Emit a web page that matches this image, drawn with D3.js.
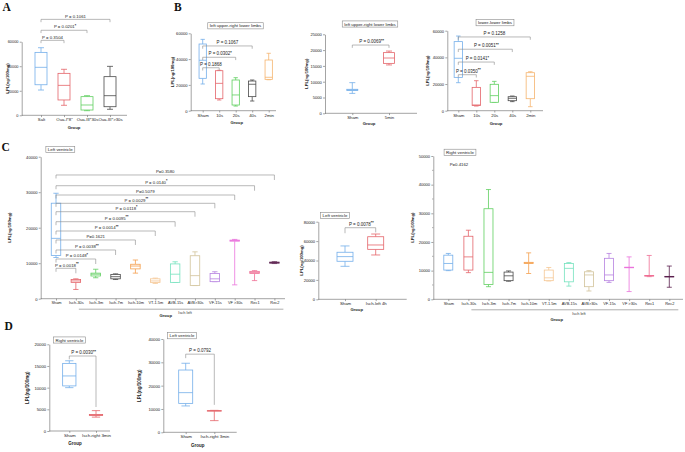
<!DOCTYPE html>
<html>
<head>
<meta charset="utf-8">
<script src="https://cdn.jsdelivr.net/npm/d3@7"></script>
<style>
body { margin: 0; background: #fff; }
text { font-family: "Liberation Sans", Arial, sans-serif; }
</style>
</head>
<body>
<div id="app"></div>
<script>
// box stats are [min, q1, median, q3, max]
const aGroups = ["Salt", "Oua-I*8\"", "Oua-III*30s", "Oua-III*>30s"];
const aStats = [[20600, 24900, 39100, 51300, 55100], [8150, 12500, 24400, 34200, 37500], [3750, 4300, 8400, 15200, 16000], [4900, 7000, 16000, 31500, 39900]];
const aTests = [{to: "Oua-I*8\"", p: "P = 0.3504", s: ""}, {to: "Oua-III*30s", p: "P = 0.0201", s: "*"}, {to: "Oua-III*>30s", p: "P = 0.1061", s: ""}];

const b1Groups = ["Sham", "10s", "20s", "40s", "2min"];
const b1Stats = [[20700, 25100, 39100, 51700, 55300], [8300, 9300, 21200, 31000, 31300], [3600, 4400, 12200, 23800, 25600], [7500, 10900, 20500, 23000, 23800], [24000, 24300, 25900, 39300, 44500]];
const b1Tests = [{to: "10s", p: "P = 0.1868", s: ""}, {to: "20s", p: "P = 0.0302", s: "*"}, {to: "40s", p: "P = 0.1067", s: ""}];

const b2Groups = ["Sham", "5min"];
const b2Stats = [[6300, 7200, 7400, 7600, 9700], [15300, 15800, 17500, 19200, 19700]];
const b2Tests = [{to: "5min", p: "P = 0.0069", s: "**"}];

const b3Groups = ["Sham", "10s", "20s", "40s", "2min"];
const b3Stats = [[21000, 25000, 39300, 51800, 56000], [3500, 3900, 4300, 17500, 22500], [6300, 6300, 11300, 19800, 22000], [6800, 7500, 9300, 10500, 11000], [3000, 9000, 25800, 28500, 29200]];
const b3Tests = [{to: "10s", p: "P = 0.0350", s: "**"}, {to: "20s", p: "P = 0.0141", s: "*"}, {to: "40s", p: "P = 0.0051", s: "**"}, {to: "2min", p: "P = 0.1258", s: ""}];

const cGroups = ["Sham", "Isch-30s", "Isch-3m", "Isch-7m", "Isch-10m", "VT-1.5m", "AVB-15s", "AVB>30s", "VF-15s", "VF >30s", "Rec1", "Rec2"];
const cLeftStats = [[11600, 12200, 17000, 26900, 29700], [2600, 4600, 5000, 5400, 5600], [5900, 6400, 6900, 7200, 8300], [5400, 5600, 6200, 6800, 7000], [7200, 8400, 9200, 9700, 10900], [4300, 4600, 5000, 5600, 5800], [4600, 4600, 6900, 9800, 10400], [3700, 3700, 6500, 12100, 13200], [4800, 4800, 5600, 7100, 7600], [3900, 16200, 16400, 16500, 16700], [5100, 7100, 7400, 7700, 7900], [9900, 10000, 10200, 10300, 10400]];
const cLeftTests = [
  {to: "Isch-30s", p: "P = 0.0018", s: "**"}, {to: "Isch-3m", p: "P = 0.0148", s: "*"},
  {to: "Isch-7m", p: "P = 0.0038", s: "**"}, {to: "Isch-10m", p: "P=0.1621", s: ""},
  {to: "VT-1.5m", p: "P = 0.0014", s: "**"}, {to: "AVB-15s", p: "P = 0.0095", s: "**"},
  {to: "AVB>30s", p: "P = 0.0118", s: "*"}, {to: "VF-15s", p: "P = 0.0029", s: "**"},
  {to: "VF >30s", p: "P=0.5079", s: ""}, {to: "Rec1", p: "P = 0.0140", s: "*"},
  {to: "Rec2", p: "P=0.3580", s: ""}
];

const cMidGroups = ["Sham", "Isch-left 4h"];
const cMidStats = [[34000, 39200, 44000, 48500, 55000], [45700, 51500, 56000, 64500, 67300]];
const cMidTests = [{to: "Isch-left 4h", p: "P = 0.0078", s: "**"}];

const cRightStats = [[10000, 10200, 12500, 15400, 16000], [9300, 10200, 14800, 22000, 24100], [4400, 5200, 9400, 31600, 38300], [6300, 6500, 8200, 9500, 9900], [9000, 12500, 12700, 12900, 16200], [6400, 6500, 7500, 10200, 11100], [4600, 6100, 10800, 12500, 12800], [2900, 4400, 8500, 9600, 10000], [5900, 6500, 8500, 14300, 16000], [2700, 11000, 11100, 11200, 14800], [7900, 8100, 8200, 8300, 15300], [4200, 7800, 7900, 8000, 11600]];

const dGroups = ["Sham", "Isch-right 3min"];
const dLeftStats = [[10000, 10400, 12700, 15600, 16200], [3200, 3600, 3700, 3800, 4700]];
const dLeftTests = [{to: "Isch-right 3min", p: "P = 0.0030", s: "**"}];
const dRightStats = [[11300, 12400, 17000, 26700, 29600], [5000, 9100, 9200, 9300, 9400]];
const dRightTests = [{to: "Isch-right 3min", p: "P = 0.0792", s: ""}];

const yLabel = "LPL(ng/100mg)";

const colA = ["#74aeea", "#e4646a", "#5fcf5f", "#4a4a4a"];
const colB = ["#74aeea", "#e4646a", "#5fcf5f", "#4a4a4a", "#f5b46e"];
const colC = ["#74aeea", "#e4646a", "#5fcf5f", "#4a4a4a", "#f5a04e", "#f5c794", "#74e2be", "#d2c39a", "#b682e0", "#ea74dc", "#ef6f94", "#5a1f4e"];
const colD = ["#74aeea", "#e4646a"];

const svg = d3.select("#app").append("svg")
    .attr("width", 685)
    .attr("height", 452);

function titleBox(cx, cy, label, fs) {
    const g = svg.append("g");
    const r = g.append("rect");
    const t = g.append("text")
        .attr("x", cx).attr("y", cy + fs * 0.35)
        .attr("text-anchor", "middle")
        .attr("font-size", fs)
        .attr("fill", "#222")
        .text(label);
    const w = t.node().getComputedTextLength() + 4;
    r.attr("x", cx - w / 2).attr("y", cy - fs * 0.7)
        .attr("width", w).attr("height", fs * 1.4)
        .attr("fill", "#fff")
        .attr("stroke", "#8a8a8a")
        .attr("stroke-width", 0.6);
}

function boxPanel(L, groups, stats, colors, tests) {
    const g = svg.append("g");
    const x = d3.scalePoint().domain(groups).range(L.cats);
    const y = d3.scaleLinear().domain([0, L.yMax]).range([L.y0, L.yTop]);

    //Y AXIS
    const ya = g.append("g")
        .attr("transform", "translate(" + L.ax + ",0)")
        .call(d3.axisLeft(y).tickValues(L.ticks).tickSize(2).tickSizeOuter(0).tickPadding(1.2).tickFormat(d3.format("d")));
    ya.select(".domain").attr("stroke", "#666").attr("stroke-width", 0.6);
    ya.selectAll(".tick line").attr("stroke", "#666").attr("stroke-width", 0.6);
    ya.selectAll(".tick text").attr("font-size", L.tickFs).attr("fill", "#222").style("font-family", "Liberation Sans");
    if (L.minor) {
        g.selectAll(".minor").data(L.minor).enter().append("line")
            .attr("x1", L.ax - 1.3).attr("x2", L.ax)
            .attr("y1", d => y(d)).attr("y2", d => y(d))
            .attr("stroke", "#666").attr("stroke-width", 0.5);
    }

    //X AXIS
    g.append("line")
        .attr("x1", L.ax).attr("x2", L.axEnd)
        .attr("y1", L.y0).attr("y2", L.y0)
        .attr("stroke", "#666").attr("stroke-width", 0.6);
    const xa = g.append("g")
        .attr("transform", "translate(0," + L.y0 + ")")
        .call(d3.axisBottom(x).tickSize(1.8).tickSizeOuter(0).tickPadding(1.2));
    xa.select(".domain").remove();
    xa.selectAll(".tick line").attr("stroke", "#666").attr("stroke-width", 0.6);
    xa.selectAll(".tick text").attr("font-size", L.catFs).attr("fill", "#222").style("font-family", "Liberation Sans");

    //LABELS
    g.append("text")
        .attr("transform", "translate(" + L.ylabX + "," + ((L.y0 + L.yTop) / 2) + ") rotate(-90)")
        .attr("text-anchor", "middle")
        .attr("font-size", L.labFs)
        .attr("font-weight", "bold")
        .attr("fill", "#222")
        .text(yLabel);
    g.append("text")
        .attr("x", L.groupAt[0]).attr("y", L.groupAt[1])
        .attr("text-anchor", "middle")
        .attr("font-size", L.labFs)
        .attr("font-weight", "bold")
        .attr("fill", "#222")
        .text("Group");

    //BOXES
    groups.forEach(function (name, i) {
        const s = stats[i];
        const cx = x(name);
        const e = g.append("g")
            .attr("stroke", colors[i])
            .attr("stroke-width", 0.8)
            .attr("fill", "none");
        e.append("line").attr("x1", cx).attr("x2", cx).attr("y1", y(s[3])).attr("y2", y(s[4]));
        e.append("line").attr("x1", cx).attr("x2", cx).attr("y1", y(s[1])).attr("y2", y(s[0]));
        e.append("line").attr("x1", cx - L.cw / 2).attr("x2", cx + L.cw / 2).attr("y1", y(s[4])).attr("y2", y(s[4]));
        e.append("line").attr("x1", cx - L.cw / 2).attr("x2", cx + L.cw / 2).attr("y1", y(s[0])).attr("y2", y(s[0]));
        e.append("rect")
            .attr("x", cx - L.bw / 2).attr("y", y(s[3]))
            .attr("width", L.bw).attr("height", Math.max(0.4, y(s[1]) - y(s[3])))
            .attr("fill", "#fff");
        e.append("line").attr("x1", cx - L.bw / 2).attr("x2", cx + L.bw / 2).attr("y1", y(s[2])).attr("y2", y(s[2]));
    });

    //BRACKETS
    tests.forEach(function (t, k) {
        const x1 = x(groups[0]);
        const x2 = x(t.to);
        const lev = y(L.levels[k]);
        g.append("path")
            .attr("d", "M" + x1 + "," + (lev + L.dl) + "V" + lev + "H" + x2 + "V" + (lev + L.dr))
            .attr("fill", "none")
            .attr("stroke", "#8a8a8a")
            .attr("stroke-width", 0.6);
        const tx = g.append("text")
            .attr("x", (x1 + x2) / 2 + (t.s ? 1 : 0))
            .attr("y", lev - 1.8)
            .attr("text-anchor", "middle")
            .attr("font-size", L.pFs)
            .attr("fill", "#222")
            .text(t.p);
        if (t.s) {
            tx.append("tspan")
                .attr("dy", -L.pFs * 0.35)
                .attr("font-size", L.pFs * 0.85)
                .attr("font-weight", "bold")
                .text(t.s);
        }
    });
    return x;
}

//A
boxPanel({ax: 21.7, axEnd: 127, y0: 115.3, yTop: 41.7, yMax: 60000, ticks: [0, 20000, 40000, 60000],
    cats: [41, 110], bw: 12, cw: 6, levels: [61100, 69300, 78200], dl: 2.8, dr: 2.8,
    tickFs: 3.9, catFs: 4.3, labFs: 4.2, pFs: 4.3, ylabX: 8.5, groupAt: [74, 128.5]},
    aGroups, aStats, colA, aTests);

//B
boxPanel({ax: 190.7, axEnd: 276, y0: 110.7, yTop: 33.3, yMax: 60000, ticks: [0, 20000, 40000, 60000],
    cats: [202.7, 268.7], bw: 7.3, cw: 4.3, levels: [33300, 41400, 50200], dl: 2.8, dr: 2.8,
    tickFs: 4.1, catFs: 4.3, labFs: 4.2, pFs: 4.5, ylabX: 174, groupAt: [236.7, 124]},
    b1Groups, b1Stats, colB, b1Tests);
titleBox(235.5, 25.8, "left upper-right lower limbs", 4.4);

boxPanel({ax: 325, axEnd: 417, y0: 113.3, yTop: 34.3, yMax: 25000, ticks: [0, 5000, 10000, 15000, 20000, 25000],
    cats: [352.3, 389], bw: 11, cw: 6, levels: [21600], dl: 2.8, dr: 2.8,
    tickFs: 4.1, catFs: 4.3, labFs: 4.2, pFs: 4.5, ylabX: 307.5, groupAt: [369, 124.5]},
    b2Groups, b2Stats, colD, b2Tests);
titleBox(370, 24, "left upper-right lower limbs", 4.4);

boxPanel({ax: 447.3, axEnd: 543, y0: 110.7, yTop: 30.7, yMax: 60000, ticks: [0, 20000, 40000, 60000],
    cats: [458.3, 530.3], bw: 8.3, cw: 4.5, levels: [27000, 36500, 46100, 55300], dl: 2.8, dr: 2.8,
    tickFs: 4.1, catFs: 4.3, labFs: 4.2, pFs: 4.5, ylabX: 429, groupAt: [496, 124.5]},
    b3Groups, b3Stats, colB, b3Tests);
titleBox(495, 22.7, "lower-lower limbs", 4.4);

//C
const cxLeft = boxPanel({ax: 40.7, axEnd: 285, y0: 298.7, yTop: 156.7, yMax: 40000, ticks: [0, 10000, 20000, 30000, 40000],
    cats: [56, 274.4], bw: 9.5, cw: 5.3, levels: [8560, 11180, 13720, 16540, 19070, 21690, 24510, 26870, 29210, 31830, 34850], dl: 3.5, dr: 5,
    tickFs: 4.1, catFs: 3.9, labFs: 4.2, pFs: 4.3, ylabX: 11, groupAt: [165.7, 317]},
    cGroups, cLeftStats, colC, cLeftTests);
titleBox(60.3, 149.5, "Left ventricle", 4.4);

boxPanel({ax: 318.3, axEnd: 406.7, y0: 299.3, yTop: 221.7, yMax: 80000, ticks: [0, 20000, 40000, 60000, 80000],
    cats: [345, 375.7], bw: 16, cw: 9, levels: [73800], dl: 5.5, dr: 4.7,
    tickFs: 4.1, catFs: 4.3, labFs: 4.2, pFs: 4.5, ylabX: 303, groupAt: [356.7, 311]},
    cMidGroups, cMidStats, colD, cMidTests);
titleBox(335, 215.5, "Left ventricle", 4.4);

const cxRight = boxPanel({ax: 433.3, axEnd: 683, y0: 299.3, yTop: 156, yMax: 50000, ticks: [0, 10000, 20000, 30000, 40000, 50000],
    minor: [5000, 15000, 25000, 35000, 45000],
    cats: [448.3, 669.3], bw: 9, cw: 5, levels: [], dl: 0, dr: 0,
    tickFs: 4.1, catFs: 3.9, labFs: 4.2, pFs: 4.5, ylabX: 413.5, groupAt: [556.7, 321]},
    cGroups, cRightStats, colC, []);
titleBox(460, 152.3, "Right ventricle", 4.4);
svg.append("text").attr("x", 459).attr("y", 165.5).attr("text-anchor", "middle")
    .attr("font-size", 4.3).attr("fill", "#222").text("P=0.4162");

// "Isch left" grouping under the categories of both C charts
[[cxLeft, 298.7], [cxRight, 299.3]].forEach(function (pair) {
    const sx = pair[0];
    const y0 = pair[1];
    svg.append("line")
        .attr("x1", sx("Isch-30s") + 3).attr("x2", sx("Rec2") + 9)
        .attr("y1", y0 + 10.5).attr("y2", y0 + 10.5)
        .attr("stroke", "#777").attr("stroke-width", 0.6);
    svg.append("text")
        .attr("x", (sx("AVB-15s") + sx("AVB>30s")) / 2).attr("y", y0 + 15.5)
        .attr("text-anchor", "middle").attr("font-size", 3.9).attr("fill", "#333")
        .text("Isch left");
});

//D
boxPanel({ax: 49.3, axEnd: 110, y0: 431, yTop: 344.3, yMax: 20000, ticks: [0, 5000, 10000, 15000, 20000],
    cats: [69.3, 96], bw: 13.3, cw: 8.3, levels: [17300], dl: 3.3, dr: 51,
    tickFs: 4.2, catFs: 4.4, labFs: 4.5, pFs: 4.5, ylabX: 29, groupAt: [75, 445]},
    dGroups, dLeftStats, colD, dLeftTests);
titleBox(69.5, 340, "Right ventricle", 4.4);

boxPanel({ax: 163.3, axEnd: 236.7, y0: 432.3, yTop: 339, yMax: 40000, ticks: [0, 10000, 20000, 30000, 40000],
    cats: [185.7, 214.3], bw: 14, cw: 8.5, levels: [33500], dl: 4, dr: 50.7,
    tickFs: 4.2, catFs: 4.4, labFs: 4.5, pFs: 4.5, ylabX: 141, groupAt: [197.7, 447]},
    dGroups, dRightStats, colD, dRightTests);
titleBox(182, 335.7, "Left ventricle", 4.4);

//PANEL LETTERS
[["A", 2.5, 10.5], ["B", 174, 10.5], ["C", 1.5, 150.5], ["D", 4.5, 330]].forEach(function (p) {
    svg.append("text")
        .attr("x", p[1]).attr("y", p[2])
        .style("font-family", "Liberation Serif")
        .attr("font-weight", "bold")
        .attr("font-size", 11.5)
        .attr("fill", "#111")
        .text(p[0]);
});
</script>
</body>
</html>
